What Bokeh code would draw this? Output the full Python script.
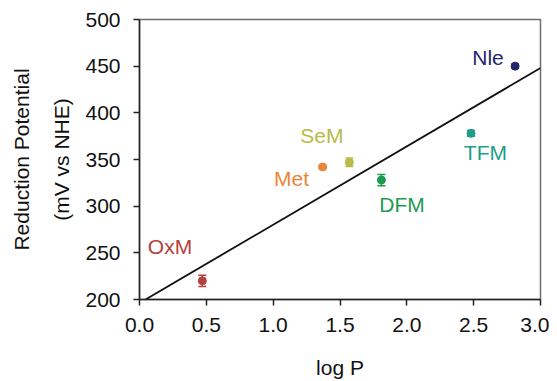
from bokeh.plotting import figure
from bokeh.models import ColumnDataSource, Whisker, TeeHead, Title, Range1d, FixedTicker
from bokeh.embed import file_html
from bokeh.resources import INLINE
from bokeh.core.properties import value

# Data
names = ["OxM", "Met", "SeM", "DFM", "TFM", "Nle"]
logp = [0.47, 1.37, 1.57, 1.81, 2.48, 2.81]
potential = [220, 342, 347, 328, 378, 450]
err = [6, 2, 4.5, 6, 3, 2]
colors = ["#b5403d", "#e8873a", "#b8bc45", "#1f9a52", "#1c9e88", "#22276a"]

# label anchor positions (data units)
label_x = [0.228, 1.137, 1.365, 1.964, 2.588, 2.607]
label_y = [257.3, 329.6, 375.2, 301.3, 358.0, 458.8]

fit_x = [0.045, 3.0]
fit_y = [200, 448]

x_ticks = [0.0, 0.5, 1.0, 1.5, 2.0, 2.5, 3.0]
y_ticks = [200, 250, 300, 350, 400, 450, 500]

FONT = "Liberation Sans"

p = figure(width=549, height=381, output_backend="svg", toolbar_location=None,
           x_range=Range1d(0, 3.0), y_range=Range1d(200, 500),
           min_border_left=139, min_border_right=9, min_border_top=19, min_border_bottom=82)
p.grid.visible = False
p.outline_line_color = "#6e6e6e"
p.outline_line_width = 1.5
p.background_fill_color = "white"
p.border_fill_color = "white"

for ax in (p.xaxis[0], p.yaxis[0]):
    ax.axis_line_color = "#222222"
    ax.axis_line_width = 1.5
    ax.major_tick_line_color = "#222222"
    ax.major_tick_line_width = 1.5
    ax.major_tick_out = 6
    ax.major_tick_in = 0
    ax.minor_tick_line_color = None
    ax.major_label_text_font = FONT
    ax.major_label_text_font_size = "21px"
    ax.major_label_text_color = "#111111"

p.xaxis.ticker = FixedTicker(ticks=x_ticks)
p.xaxis.major_label_overrides = {t: f"{t:.1f}" for t in x_ticks}
p.xaxis.major_label_standoff = 12
p.xaxis.axis_label = "log P"
p.xaxis.axis_label_text_font = FONT
p.xaxis.axis_label_text_font_size = "21px"
p.xaxis.axis_label_text_font_style = "normal"
p.xaxis.axis_label_text_color = "#111111"
p.xaxis.axis_label_standoff = 21

p.yaxis.ticker = FixedTicker(ticks=y_ticks)
p.yaxis.major_label_standoff = 13

# fit line
p.line(fit_x, fit_y, line_color="#111111", line_width=1.8)

src = ColumnDataSource(dict(x=logp, y=potential, lo=[v - e for v, e in zip(potential, err)],
                            hi=[v + e for v, e in zip(potential, err)], c=colors))
wh = Whisker(base="x", lower="lo", upper="hi", source=src, dimension="height",
             line_color="c", line_width=1.5,
             lower_head=TeeHead(size=8, line_color="c", line_width=1.5),
             upper_head=TeeHead(size=8, line_color="c", line_width=1.5))
p.add_layout(wh)
p.scatter("x", "y", source=src, size=8, color="c", marker="circle")

lsrc = ColumnDataSource(dict(x=label_x, y=label_y, t=names, c=colors))
p.text("x", "y", text="t", source=lsrc, text_color="c", text_font=value(FONT),
       text_font_size="21px", text_align="center", text_baseline="middle")

# two-line y title (inner line added first)
t2 = Title(text="(mV vs NHE)", align="center", text_font=FONT, text_font_size="21px",
           text_font_style="normal", text_color="#111111", standoff=20)
t1 = Title(text="Reduction Potential", align="center", text_font=FONT, text_font_size="21px",
           text_font_style="normal", text_color="#111111", standoff=10)
p.add_layout(t2, "left")
p.add_layout(t1, "left")

open("out.html", "w").write(file_html(p, INLINE))
